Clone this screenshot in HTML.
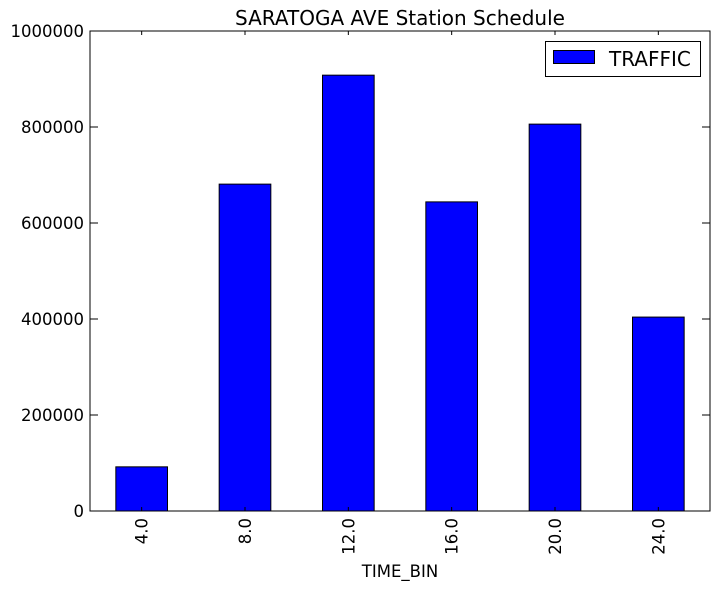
<!DOCTYPE html>
<html><head><meta charset="utf-8"><style>
body{margin:0;background:#fff;}
svg{display:block;font-family:"DejaVu Sans","Liberation Sans",sans-serif;}
</style></head><body>
<svg id="chart" width="719" height="589" viewBox="0 0 719 589"></svg>
<script>
const categories=["4.0","8.0","12.0","16.0","20.0","24.0"];
const traffic=[92000,681000,908000,644000,806000,404000];
const yTicks=[0,200000,400000,600000,800000,1000000];
const yTickLabels=["0","200000","400000","600000","800000","1000000"];

const L=90,R=710,T=31,B=511,yMax=1000000;
const svg=document.getElementById('chart');
const NS="http://www.w3.org/2000/svg";
function y(v){return B-(v/yMax)*(B-T);}
const step=(R-L)/categories.length;
function xc(i){return L+step*(i+0.5);}
function mk(tag,attrs,parent){const e=document.createElementNS(NS,tag);for(const k in attrs)e.setAttribute(k,attrs[k]);(parent||svg).appendChild(e);return e;}

const t=mk('text',{x:(L+R)/2,y:25,'text-anchor':'middle','font-size':20});
t.textContent='SARATOGA AVE Station Schedule';



categories.forEach((c,i)=>{
  const w=step*0.5;
  const r=mk('rect',{x:xc(i)-w/2,y:y(traffic[i]),width:w,height:B-y(traffic[i]),fill:'#0000ff',stroke:'#000','stroke-width':1});
  
  
  mk('line',{x1:xc(i),x2:xc(i),y1:B,y2:B-4,stroke:'#000'});
  mk('line',{x1:xc(i),x2:xc(i),y1:T,y2:T+4,stroke:'#000'});
  const lb=mk('text',{x:0,y:0,'text-anchor':'end','font-size':16.5,transform:`translate(${xc(i)+6},${B+7}) rotate(-90)`});
  lb.textContent=c;
  
  
});

yTicks.forEach((v,i)=>{
  mk('line',{x1:L,x2:L+8,y1:y(v),y2:y(v),stroke:'#000'});
  mk('line',{x1:R,x2:R-8,y1:y(v),y2:y(v),stroke:'#000'});
  const lb=mk('text',{x:L-6,y:y(v)+6,'text-anchor':'end','font-size':16.5});
  lb.textContent=yTickLabels[i];
  
  
});

const frame=mk('rect',{x:L,y:T,width:R-L,height:B-T,fill:'none',stroke:'#000','stroke-width':1});



const xt=mk('text',{x:400,y:577,'text-anchor':'middle','font-size':16.5});
xt.textContent='TIME_BIN';



const lg=mk('g',{});


mk('rect',{x:545.5,y:41.5,width:155,height:35,fill:'#fff',stroke:'#000'},lg);
const lp=mk('rect',{x:553.5,y:50.5,width:41,height:13,fill:'#0000ff',stroke:'#000'},lg);


const lt=mk('text',{x:609,y:66,'font-size':20},lg);
lt.textContent='TRAFFIC';


</script>
</body></html>
